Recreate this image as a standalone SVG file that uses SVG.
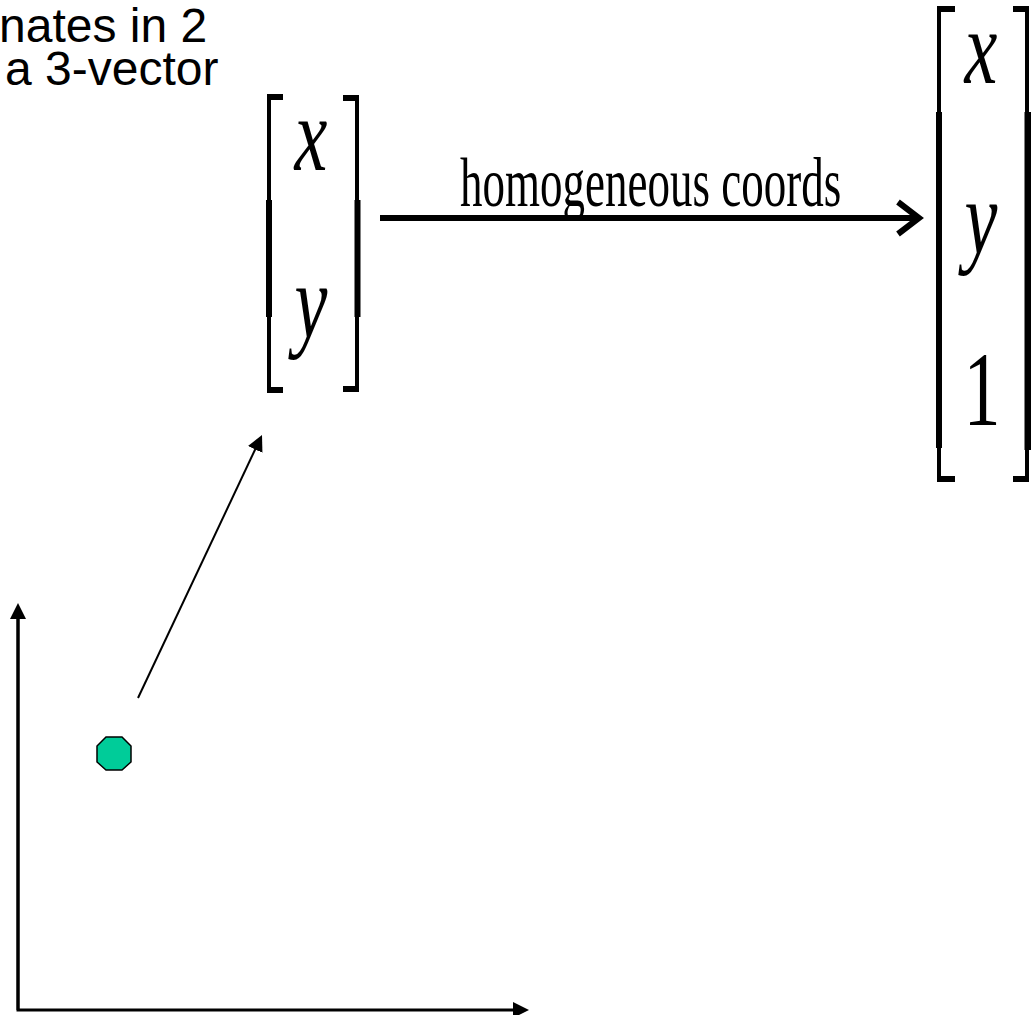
<svg xmlns="http://www.w3.org/2000/svg" width="1033" height="1015" viewBox="0 0 1033 1015">
<style>
.sans{font-family:"Liberation Sans",Arial,sans-serif;font-size:48px;fill:#000}
.mi{font-family:"Liberation Serif","Times New Roman",serif;font-style:italic;font-size:74px;fill:#000}
.mr{font-family:"Liberation Serif","Times New Roman",serif;font-size:74px;fill:#000}
.lbl{font-family:"Liberation Serif","Times New Roman",serif;font-size:45px;fill:#000}
.br{fill:#000}
.ax{stroke:#000;stroke-width:3;fill:none}
</style>
<defs>
<marker id="tri" viewBox="0 0 16 16" refX="8" refY="8" markerWidth="16" markerHeight="16" markerUnits="userSpaceOnUse" orient="auto">
<path d="M0,0 L16,8 L0,16 z" fill="#000"/>
</marker>
</defs>
<rect width="1033" height="1015" fill="#fff"/>
<g id="caption">
<text class="sans" x="-1" y="42">nates in 2</text>
<text class="sans" x="5" y="85">a 3-vector</text>
</g>
<g id="vec2">
<rect class="br" x="267" y="94" width="4" height="299"/>
<rect class="br" x="266" y="200" width="6" height="117"/>
<rect class="br" x="267" y="94" width="16" height="6"/>
<rect class="br" x="267" y="387" width="16" height="6"/>
<rect class="br" x="355" y="95" width="4" height="297"/>
<rect class="br" x="354.5" y="200" width="6" height="117"/>
<rect class="br" x="343" y="95" width="16" height="6"/>
<rect class="br" x="343" y="386" width="16" height="6"/>
<text class="mi" text-anchor="middle" transform="translate(311,170) scale(1,1.42)">x</text>
<text class="mi" text-anchor="middle" transform="translate(311,337) scale(1,1.42)">y</text>
</g>
<g id="vec3">
<rect class="br" x="937" y="6" width="4" height="476"/>
<rect class="br" x="936" y="112" width="6" height="336"/>
<rect class="br" x="937" y="6" width="18" height="6"/>
<rect class="br" x="937" y="476" width="18" height="6"/>
<rect class="br" x="1025" y="6" width="4" height="476"/>
<rect class="br" x="1024.5" y="112" width="6.5" height="338"/>
<rect class="br" x="1013" y="6" width="16" height="6"/>
<rect class="br" x="1013" y="476" width="16" height="6"/>
<text class="mi" text-anchor="middle" transform="translate(981,83) scale(1,1.42)">x</text>
<text class="mi" text-anchor="middle" transform="translate(981,253) scale(1,1.42)">y</text>
<text class="mr" text-anchor="middle" transform="translate(982,425) scale(1,1.42)">1</text>
</g>
<g id="point">
<polygon points="106,737 122,737 131,746 131,762 122,770 106,770 97,762 97,746" fill="#00CC99" stroke="#000" stroke-width="1.5"/>
</g>
<g id="connectors">
<line x1="380" y1="218" x2="918" y2="218" stroke="#000" stroke-width="6"/>
<polyline points="898,202 919,218 898,234" fill="none" stroke="#000" stroke-width="6"/>
<text class="lbl" transform="translate(460,206) scale(1,1.55)">homogeneous coords</text>
<polyline class="ax" points="18,611 18,1010 521,1010" marker-end="url(#tri)"/>
<line class="ax" x1="18" y1="1010" x2="18" y2="611" marker-end="url(#tri)"/>
<line x1="138" y1="698" x2="258.6" y2="442.2" stroke="#000" stroke-width="2" marker-end="url(#tri)"/>
</g>
</svg>
